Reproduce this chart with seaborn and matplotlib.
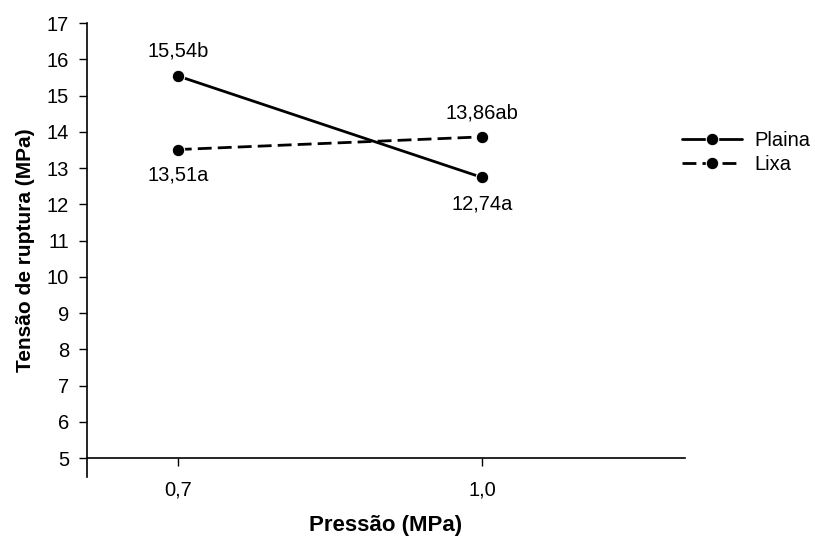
import matplotlib
matplotlib.use("Agg")
import matplotlib.pyplot as plt
import seaborn as sns
import pandas as pd

pressao = [0.7, 1.0]
pressao_labels = ["0,7", "1,0"]
plaina = [15.54, 12.74]
lixa = [13.51, 13.86]
plaina_labels = ["15,54b", "12,74a"]
lixa_labels = ["13,51a", "13,86ab"]
yticks = list(range(5, 18))

sns.set_style("white")
plt.rcParams['font.family'] = ['Liberation Sans', 'DejaVu Sans']
plt.rcParams['text.color'] = 'black'
plt.rcParams['axes.labelcolor'] = 'black'
plt.rcParams['xtick.color'] = 'black'
plt.rcParams['ytick.color'] = 'black'

df = pd.DataFrame({
    "Pressão": pressao * 2,
    "Tensão": plaina + lixa,
    "Tratamento": ["Plaina"] * 2 + ["Lixa"] * 2,
})

FS = 14.5

fig = plt.figure(figsize=(8.15, 5.36), dpi=100)
ax = fig.add_axes([87/815, 1 - 477/536, (685-87)/815, (477-23)/536])

sns.lineplot(data=df, x="Pressão", y="Tensão", style="Tratamento",
             dashes={"Plaina": "", "Lixa": (5, 2.2)}, markers={"Plaina": "o", "Lixa": "o"},
             color="black", linewidth=2, markersize=9, ax=ax, legend=True)

for s in ["top", "right"]:
    ax.spines[s].set_visible(False)
ax.spines["bottom"].set_position(("data", 5))

ax.set_xlim(0.6105, 1.2)
ax.set_ylim(4.48, 17)
ax.spines["left"].set_bounds(4.48, 17)
for s in ["left", "bottom"]:
    ax.spines[s].set_color("black")
    ax.spines[s].set_linewidth(1.2)

ax.set_yticks(yticks)
ax.set_yticklabels([str(t) for t in yticks], fontsize=FS)
ax.set_xticks(pressao)
ax.set_xticklabels(pressao_labels, fontsize=FS)
ax.tick_params(axis="both", direction="out", length=6, width=1, color="black",
               left=True, bottom=True, labelcolor="black")
ax.tick_params(axis="y", pad=7)
ax.tick_params(axis="x", pad=10)

offsets_plaina = [18, -19]
offsets_lixa = [-18, 17]
for x, y, t, off in zip(pressao, plaina, plaina_labels, offsets_plaina):
    ax.annotate(t, (x, y), xytext=(0, off), textcoords="offset points",
                ha="center", va="center", fontsize=FS, color="black")
for x, y, t, off in zip(pressao, lixa, lixa_labels, offsets_lixa):
    ax.annotate(t, (x, y), xytext=(0, off), textcoords="offset points",
                ha="center", va="center", fontsize=FS, color="black")

ax.set_xlabel("Pressão (MPa)", fontsize=16, fontweight="bold", labelpad=11, color="black")
ax.set_ylabel("Tensão de ruptura (MPa)", fontsize=15, fontweight="bold", labelpad=8, color="black")

leg = ax.legend(loc="upper left", bbox_to_anchor=(0.995, 0.763), frameon=False,
                fontsize=FS, handlelength=3.0, handletextpad=0.6, labelspacing=0.25,
                borderaxespad=0, borderpad=0)
for t in leg.get_texts():
    t.set_color("black")

fig.savefig("out.png", dpi=100)
